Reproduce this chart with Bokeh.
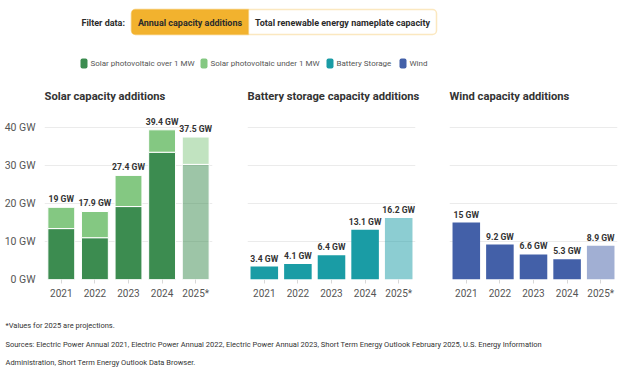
from bokeh.plotting import figure
from bokeh.layouts import column, row
from bokeh.models import ColumnDataSource, FactorRange, Range1d, FixedTicker, BoxAnnotation
from bokeh.core.properties import value
from bokeh.embed import file_html
from bokeh.resources import INLINE

# ---------------- data ----------------
years = ["2021", "2022", "2023", "2024", "2025*"]
solar_over_1mw = [13.4, 11.0, 19.2, 33.5, 30.3]
solar_under_1mw = [5.6, 6.9, 8.2, 5.9, 7.2]
solar_total = [19.0, 17.9, 27.4, 39.4, 37.5]
battery = [3.4, 4.1, 6.4, 13.1, 16.2]
wind = [15.0, 9.2, 6.6, 5.3, 8.9]
y_ticks = [0, 10, 20, 30, 40]
legend_labels = ["Solar photovoltaic over 1 MW", "Solar photovoltaic under 1 MW", "Battery Storage", "Wind"]
projection_alpha = [1, 1, 1, 1, 0.5]

# ---------------- style ----------------
FONT = "Roboto"
C_SOLAR_OVER = "#3c8c50"
C_SOLAR_UNDER = "#84c882"
C_BATTERY = "#1a9ca5"
C_WIND = "#4360a8"
C_ORANGE = "#f2b22e"
TXT = "#333333"
GRID = "#ebebeb"

def fmt(v):
    return f"{v:g} GW"

def panel(title, width, left, right, show_y):
    p = figure(x_range=FactorRange(*years), y_range=Range1d(0, 45.8),
               width=width, height=230, output_backend="svg", toolbar_location=None,
               min_border_left=left, min_border_right=right, min_border_top=25,
               min_border_bottom=31, title=title)
    p.title.text_font = FONT
    p.title.text_font_size = "11.2px"
    p.title.text_font_style = "bold"
    p.title.text_color = TXT
    p.title.align = "left"
    p.title.standoff = 5
    p.title.offset = 0
    p.outline_line_color = None
    p.xgrid.grid_line_color = None
    p.ygrid.grid_line_color = GRID
    p.ygrid.ticker = FixedTicker(ticks=y_ticks)
    p.yaxis.ticker = FixedTicker(ticks=y_ticks)
    p.yaxis.major_label_overrides = {t: fmt(t) for t in y_ticks}
    p.yaxis.axis_line_color = None
    p.yaxis.major_tick_line_color = None
    p.yaxis.minor_tick_line_color = None
    p.yaxis.major_label_text_font = FONT
    p.yaxis.major_label_text_font_size = "10.5px"
    p.yaxis.major_label_text_color = "#555555"
    p.yaxis.major_label_standoff = 3
    p.yaxis.visible = show_y
    p.xaxis.axis_line_color = None
    p.xaxis.major_tick_line_color = "#d8d8d8"
    p.xaxis.major_tick_out = 4
    p.xaxis.major_tick_in = 0
    p.xaxis.major_label_text_font = FONT
    p.xaxis.major_label_text_font_size = "10px"
    p.xaxis.major_label_text_color = "#555555"
    p.xaxis.major_label_standoff = 4
    p.x_range.range_padding = 0
    p.background_fill_color = "white"
    p.border_fill_color = "white"
    return p

def bar_labels(p, values):
    src = ColumnDataSource(dict(x=years, y=values, t=[fmt(v) for v in values]))
    p.text(x="x", y="y", text="t", source=src, text_align="center", text_baseline="bottom",
           y_offset=-3, text_font=value(FONT), text_font_size="8.6px",
           text_font_style="bold", text_color=TXT)

# ---------------- solar ----------------
ps = panel("Solar capacity additions", 230, 44, 18, True)
ssrc = ColumnDataSource(dict(x=years, over=solar_over_1mw, under=solar_under_1mw, a=projection_alpha))
ps.vbar_stack(["over", "under"], x="x", width=0.8, source=ssrc,
              fill_color=[C_SOLAR_OVER, C_SOLAR_UNDER], fill_alpha="a",
              line_color="white", line_width=1)
bar_labels(ps, solar_total)

# ---------------- battery ----------------
pb = panel("Battery storage capacity additions", 203, 17, 18, False)
bsrc = ColumnDataSource(dict(x=years, y=battery, a=projection_alpha))
pb.vbar(x="x", top="y", width=0.82, source=bsrc, fill_color=C_BATTERY, fill_alpha="a",
        line_color=None)
bar_labels(pb, battery)

# ---------------- wind ----------------
pw = panel("Wind capacity additions", 210, 16, 26, False)
wsrc = ColumnDataSource(dict(x=years, y=wind, a=projection_alpha))
pw.vbar(x="x", top="y", width=0.82, source=wsrc, fill_color=C_WIND, fill_alpha="a",
        line_color=None)
bar_labels(pw, wind)

# ---------------- header ----------------
ph = figure(width=643, height=80, x_range=Range1d(0, 643), y_range=Range1d(80, 0),
            output_backend="svg", toolbar_location=None, min_border=0)
ph.axis.visible = False
ph.grid.visible = False
ph.outline_line_color = None
ph.add_layout(BoxAnnotation(left=131, right=436, top=9, bottom=34, fill_color="white",
                            fill_alpha=1, line_color=C_ORANGE, line_width=1.5, border_radius=4,
                            level="underlay"))
ph.add_layout(BoxAnnotation(left=131, right=248, top=9, bottom=34, fill_color=C_ORANGE,
                            fill_alpha=1, line_color=C_ORANGE, line_width=1.5,
                            border_radius=dict(top_left=4, bottom_left=4, top_right=0, bottom_right=0),
                            level="underlay"))
ph.text(x=[81, 189.5, 342], y=[22, 22, 22],
        text=["Filter data:", "Annual capacity additions", "Total renewable energy nameplate capacity"],
        text_align=["left", "center", "center"], text_baseline="middle",
        text_font=value(FONT), text_font_size="9px", text_font_style="bold", text_color="#2b2b2b")
sw_x = [80, 200, 326, 399]
ph.rect(x=[v + 3.5 for v in sw_x], y=[63] * 4, width=7, height=10,
        fill_color=[C_SOLAR_OVER, C_SOLAR_UNDER, C_BATTERY, C_WIND], line_color=None,
        border_radius=2)
ph.text(x=[v + 10 for v in sw_x], y=[63] * 4, text=legend_labels, text_baseline="middle",
        text_font=value(FONT), text_font_size="8px", text_color="#555555")

# ---------------- footer ----------------
pf = figure(width=643, height=67, x_range=Range1d(0, 643), y_range=Range1d(67, 0),
            output_backend="svg", toolbar_location=None, min_border=0)
pf.axis.visible = False
pf.grid.visible = False
pf.outline_line_color = None
footer = ["*Values for 2025 are projections.",
          "Sources: Electric Power Annual 2021, Electric Power Annual 2022, Electric Power Annual 2023, "
          "Short Term Energy Outlook February 2025, U.S. Energy Information",
          "Administration, Short Term Energy Outlook Data Browser."]
pf.text(x=[5, 5, 5], y=[15, 34, 52], text=footer, text_baseline="middle",
        text_font=value(FONT), text_font_size="7.5px", text_color="#333333")

layout = column(ph, row(ps, pb, pw, spacing=0), pf, spacing=0)
open("out.html", "w").write(file_html(layout, INLINE))
